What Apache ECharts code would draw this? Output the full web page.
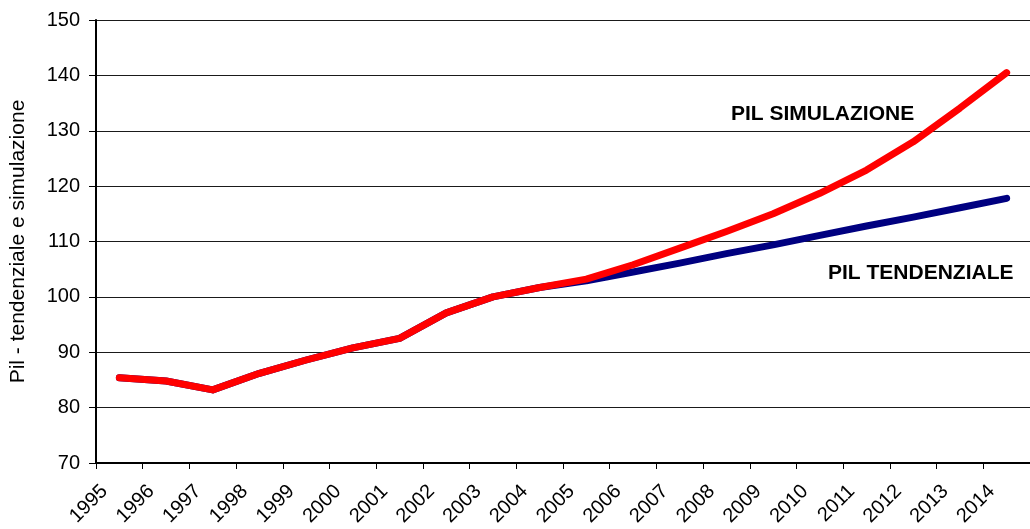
<!DOCTYPE html>
<html>
<head>
<meta charset="utf-8">
<script src="https://cdn.jsdelivr.net/npm/echarts@6/dist/echarts.min.js"></script>
<style>
  html, body { margin: 0; padding: 0; background: #fff; }
  #pil-chart { width: 1030px; height: 529px; }
</style>
</head>
<body>
<div id="pil-chart"></div>
<script>
var anni = ['1995','1996','1997','1998','1999','2000','2001','2002','2003','2004',
            '2005','2006','2007','2008','2009','2010','2011','2012','2013','2014'];

// PIL tendenziale (blu) e simulazione (rosso)
var pilTendenziale = [85.4, 84.8, 83.2, 86.2, 88.6, 90.8, 92.5, 97.1, 100.0, 101.7,
                      102.9, 104.5, 106.1, 107.8, 109.4, 111.1, 112.8, 114.4, 116.1, 117.8];
var pilSimulazione = [85.4, 84.8, 83.2, 86.2, 88.6, 90.8, 92.5, 97.1, 100.0, 101.7,
                      103.2, 105.8, 108.8, 111.8, 115.0, 118.7, 122.9, 128.0, 134.1, 140.5];

var yTicks = [70, 80, 90, 100, 110, 120, 130, 140, 150];

var FONT = 'Liberation Sans, Arial, sans-serif';

var pil_chart = echarts.init(document.getElementById('pil-chart'));

pil_chart.setOption({
    animation: false,
    textStyle: { fontFamily: FONT },
    grid: {
        left: 96,
        top: 20,
        width: 944,
        height: 443
    },
    xAxis: {
        type: 'category',
        data: anni,
        boundaryGap: true,
        axisLine: { lineStyle: { color: '#000', width: 2 } },
        axisTick: { show: true, length: 6, lineStyle: { color: '#000', width: 1 } },
        axisLabel: {
            rotate: 45,
            margin: 40,
            verticalAlign: 'bottom',
            padding: [0, 0, 11, 0],
            color: '#000',
            fontSize: 20
        },
        splitLine: { show: false }
    },
    yAxis: {
        type: 'value',
        min: yTicks[0],
        max: yTicks[yTicks.length - 1],
        interval: 10,
        name: 'Pil - tendenziale e simulazione',
        nameLocation: 'middle',
        nameGap: 67,
        nameRotate: 90,
        nameTextStyle: { color: '#000', fontSize: 21 },
        axisLine: { show: true, lineStyle: { color: '#000', width: 2 } },
        axisTick: { show: true, length: 7, lineStyle: { color: '#000', width: 1 } },
        axisLabel: { color: '#000', fontSize: 20, margin: 16 },
        splitLine: { show: true, lineStyle: { color: '#1a1a1a', width: 1 } }
    },
    series: [
        {
            name: 'PIL TENDENZIALE',
            type: 'line',
            data: pilTendenziale,
            symbol: 'none',
            lineStyle: { color: '#000080', width: 7, cap: 'round', join: 'round' },
            z: 2
        },
        {
            name: 'PIL SIMULAZIONE',
            type: 'line',
            data: pilSimulazione,
            symbol: 'none',
            lineStyle: { color: '#ff0000', width: 7, cap: 'round', join: 'round' },
            z: 3
        }
    ],
    graphic: [
        {
            type: 'text',
            left: 731,
            top: 104,
            style: { text: 'PIL SIMULAZIONE', fill: '#000', font: 'bold 21px ' + FONT }
        },
        {
            type: 'text',
            left: 828,
            top: 263,
            style: { text: 'PIL TENDENZIALE', fill: '#000', font: 'bold 21px ' + FONT }
        }
    ]
});
</script>
</body>
</html>
